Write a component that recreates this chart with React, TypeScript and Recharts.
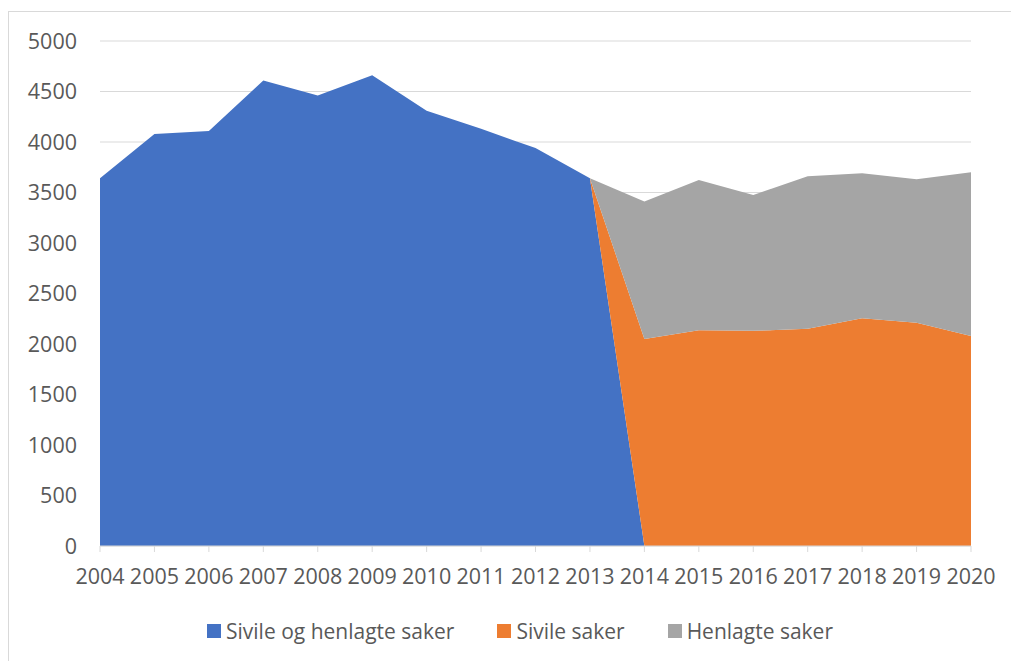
import React from 'react';
import { AreaChart, Area, XAxis, YAxis, CartesianGrid, Legend } from 'recharts';

const years = ['2004', '2005', '2006', '2007', '2008', '2009', '2010', '2011', '2012', '2013', '2014', '2015', '2016', '2017', '2018', '2019', '2020'];
const sivileOgHenlagte = [3640, 4080, 4110, 4610, 4460, 4660, 4310, 4130, 3940, 3640, 0, 0, 0, 0, 0, 0, 0];
const sivile = [0, 0, 0, 0, 0, 0, 0, 0, 0, 0, 2050, 2135, 2130, 2150, 2255, 2210, 2080];
const henlagte = [0, 0, 0, 0, 0, 0, 0, 0, 0, 0, 1360, 1490, 1345, 1510, 1435, 1420, 1620];
const yTicks = [0, 500, 1000, 1500, 2000, 2500, 3000, 3500, 4000, 4500, 5000];

const seriesNames = ['Sivile og henlagte saker', 'Sivile saker', 'Henlagte saker'];
const colors = ['#4472C4', '#ED7D31', '#A5A5A5'];

const data = years.map((y, i) => ({
  year: y,
  a: sivileOgHenlagte[i],
  b: sivile[i],
  c: henlagte[i],
}));

const textColor = '#595959';
const gridColor = '#D9D9D9';
const font = "'Open Sans', sans-serif";

const LegendContent = () => (
  <div
    style={{
      display: 'flex',
      alignItems: 'center',
      height: 30,
      fontFamily: font,
      fontSize: 21,
      color: textColor,
      whiteSpace: 'nowrap',
    }}
  >
    {seriesNames.map((n, i) => (
      <div key={n} style={{ display: 'flex', alignItems: 'center', marginRight: i < 2 ? 43 : 0 }}>
        <span style={{ display: 'inline-block', width: 14, height: 14, background: colors[i], marginRight: 5 }} />
        <span style={{ lineHeight: '30px' }}>{n}</span>
      </div>
    ))}
  </div>
);

export default function App() {
  return (
    <div
      style={{
        position: 'fixed',
        left: 8,
        top: 11,
        width: 1003,
        height: 650,
        borderTop: `1px solid ${gridColor}`,
        borderLeft: `1px solid ${gridColor}`,
        background: '#fff',
      }}
    >
      <AreaChart width={1002} height={649} data={data} margin={{ top: 29, right: 40, bottom: 15, left: 0 }}>
        <CartesianGrid vertical={false} stroke={gridColor} strokeWidth={1} />
        <XAxis
          dataKey="year"
          interval={0}
          height={70}
          axisLine={{ stroke: gridColor }}
          tickLine={{ stroke: gridColor }}
          tickSize={6}
          tickMargin={17}
          tick={{ fill: textColor, fontSize: 21.5, fontFamily: font }}
        />
        <YAxis
          width={91}
          domain={[0, 5000]}
          ticks={yTicks}
          interval={0}
          axisLine={false}
          tickLine={false}
          tickSize={0}
          tickMargin={23}
          tick={{ fill: textColor, fontSize: 21.5, fontFamily: font }}
        />
        <Area dataKey="a" name={seriesNames[0]} stackId="1" type="linear" fill={colors[0]} fillOpacity={1} stroke="none" isAnimationActive={false} />
        <Area dataKey="b" name={seriesNames[1]} stackId="1" type="linear" fill={colors[1]} fillOpacity={1} stroke="none" isAnimationActive={false} />
        <Area dataKey="c" name={seriesNames[2]} stackId="1" type="linear" fill={colors[2]} fillOpacity={1} stroke="none" isAnimationActive={false} />
        <Legend
          verticalAlign="bottom"
          content={<LegendContent />}
          wrapperStyle={{ left: 198, width: 'auto', height: 30 }}
        />
      </AreaChart>
    </div>
  );
}
